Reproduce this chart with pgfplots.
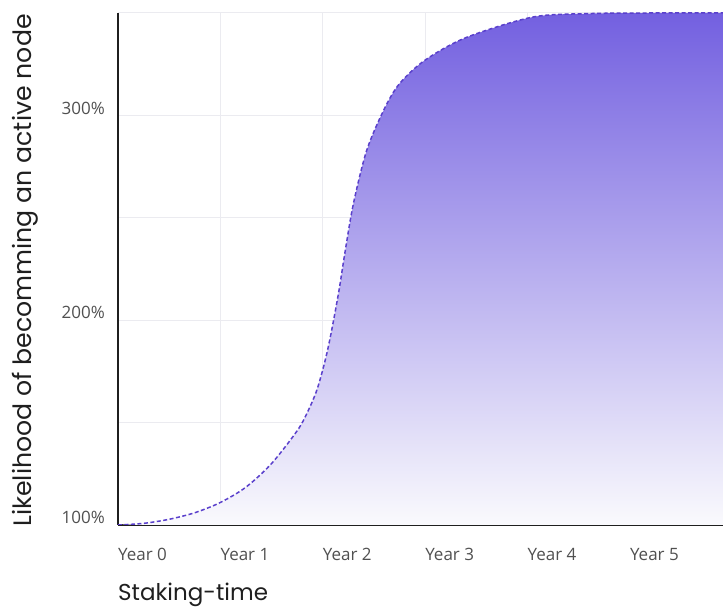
\documentclass[border=0pt]{standalone}
\usepackage{pgfplots}
\pgfplotsset{compat=1.18}
\usepackage{fontspec}
\setmainfont{Open Sans}
\newfontfamily\labelfont{Poppins}

\definecolor{curve}{HTML}{5A40CC}
\definecolor{filltop}{HTML}{7360E0}
\definecolor{fillmid}{HTML}{CBC4F1}
\definecolor{fillbot}{HTML}{FAFAFD}
\definecolor{gridc}{HTML}{EBEBF0}
\definecolor{tickc}{HTML}{505050}

% likelihood minus 100 (axis starts at 100%)
\pgfplotstableread{
x     y
0     0
0.25  0.8
0.5   2.8
0.75  6
1.0   11
1.25  18.5
1.5   30
1.75  46
1.85  55
1.95  67
2.05  86
2.15  112
2.22  134
2.3   157
2.43  183
2.6   203
2.75  215.5
3.0   227
3.4   238
4.05  248
4.6   249.7
5.2   250
5.91  250
}\likelihood

\begin{document}
\begin{tikzpicture}
  \begin{axis}[
    name=ax,
    scale only axis,
    width=605bp, height=512bp,
    xmin=0, xmax=5.91,
    ymin=0, ymax=250,
    axis x line*=bottom,
    axis y line*=left,
    axis line style={line width=2.6bp, color=black!88},
    xtick={0,1,2,3,4,5},
    xticklabels={Year 0, Year 1, Year 2, Year 3, Year 4, Year 5},
    ytick={0,100,200},
    yticklabels={100\%, 200\%, 300\%},
    minor ytick={50,150,250},
    major tick length=0pt, minor tick length=0pt,
    grid=both,
    major grid style={gridc, line width=1bp},
    minor grid style={gridc, line width=1bp},
    tick label style={font=\fontsize{17bp}{20bp}\selectfont, text=tickc, inner sep=0pt},
    x tick label style={anchor=base west, xshift=0bp, yshift=-35bp},
    y tick label style={anchor=south east, xshift=-13bp, yshift=1bp},
    clip=true,
  ]
    \addplot[draw=none, bottom color=fillbot, middle color=fillmid, top color=filltop,
      smooth, tension=0.5] table[x=x, y=y] {\likelihood} \closedcycle;
    \addplot[curve, line width=1.5bp, dash pattern=on 4bp off 2.5bp,
      smooth, tension=0.5] table[x=x, y=y] {\likelihood};
    \coordinate (sw) at (rel axis cs:0,0);
  \end{axis}
  \node[anchor=base west, inner sep=0pt, font=\labelfont\fontsize{23bp}{26bp}\selectfont, text=black!88]
    at ([yshift=-75bp]sw) {Staking-time};
  \node[anchor=base west, inner sep=0pt, rotate=90, font=\labelfont\fontsize{25.2bp}{29bp}\selectfont, text=black!88]
    at ([xshift=-86bp, yshift=-2bp]sw) {Likelihood of becomming an active node};
  \pgfresetboundingbox
  \path ([xshift=-118bp, yshift=-83bp]sw) rectangle ++(723bp, 608bp);
\end{tikzpicture}
\end{document}
